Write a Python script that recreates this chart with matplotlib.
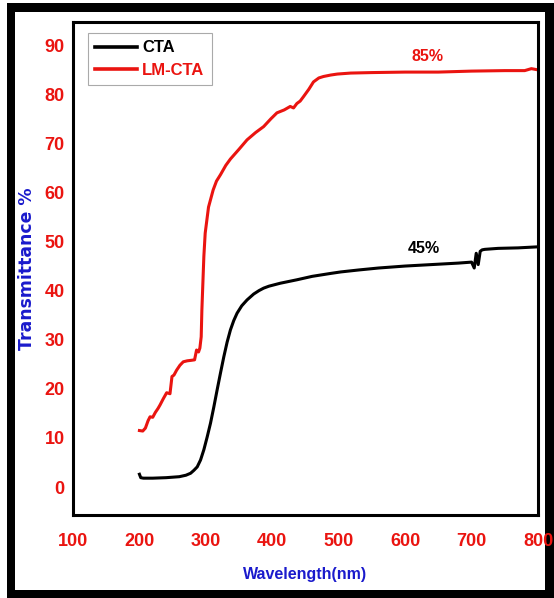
import numpy as np
import matplotlib
matplotlib.use("Agg")
import matplotlib.pyplot as plt
from matplotlib.patches import Rectangle

# datos
wl_lm = [200, 205, 209, 213, 216, 220, 224, 228, 231, 236, 241, 246, 249, 252, 256, 261,
         266, 272, 278, 283, 286, 289, 291, 293, 294, 295.5, 297, 299, 304, 311, 316,
         322, 330, 337, 350, 362, 375, 387, 398, 407, 418, 427, 432, 437, 442, 447,
         455, 462, 470, 477, 488, 498, 518, 550, 600, 650, 700, 750, 780, 790, 798]
tr_lm = [11.5, 11.4, 12.0, 13.5, 14.3, 14.2, 15.2, 16.0, 16.7, 18.0, 19.2, 19.0, 22.5, 22.8,
         23.8, 24.8, 25.5, 25.7, 25.8, 25.9, 27.9, 27.5, 28.3, 30.6, 36.0, 41.5, 47.0, 51.7,
         57.0, 60.5, 62.3, 63.6, 65.5, 66.8, 68.8, 70.7, 72.2, 73.4, 75.0, 76.2, 76.8, 77.5,
         77.2, 78.1, 78.6, 79.5, 81.0, 82.5, 83.3, 83.6, 83.9, 84.1, 84.3, 84.4, 84.5, 84.5,
         84.7, 84.8, 84.8, 85.2, 85.0]

wl_cta = [200, 202, 206, 220, 240, 260, 270, 277, 282, 287, 292, 297, 302, 307, 312, 317,
          322, 327, 332, 337, 342, 347, 354, 362, 372, 380, 387, 395, 412, 437, 460, 488,
          503, 530, 560, 600, 640, 680, 700, 704, 707, 710, 713, 716, 720, 740, 770, 798]
tr_cta = [2.6, 1.9, 1.8, 1.8, 1.9, 2.1, 2.4, 2.8, 3.4, 4.1, 5.5, 7.6, 10.2, 13.0, 16.3, 19.8,
          23.2, 26.5, 29.5, 32.0, 33.9, 35.4, 36.9, 38.1, 39.3, 40.0, 40.5, 40.9, 41.5, 42.2,
          42.9, 43.5, 43.8, 44.2, 44.6, 45.0, 45.3, 45.6, 45.8, 44.6, 47.6, 45.3, 48.0, 48.3,
          48.4, 48.6, 48.7, 48.9]

xticks = [100, 200, 300, 400, 500, 600, 700, 800]
yticks = [0, 10, 20, 30, 40, 50, 60, 70, 80, 90]

fuente = ["Liberation Sans", "DejaVu Sans"]
rojo = "#ea1410"
azul = "#1a1acc"

fig = plt.figure(figsize=(5.54, 5.98), dpi=100)

# marco negro alrededor de la imagen
W, H = 554, 598
fig.add_artist(Rectangle((7 / W, 0), 547 / W, 595 / H, transform=fig.transFigure,
                         facecolor="black", edgecolor="none", zorder=-3))
fig.add_artist(Rectangle((15 / W, 8 / H), 530 / W, 578 / H, transform=fig.transFigure,
                         facecolor="white", edgecolor="none", zorder=-2))

ax = fig.add_axes([73 / W, 1 - 515 / H, 465 / W, 493 / H])

ax.plot(wl_cta, tr_cta, color="black", lw=2.2, label="CTA")
ax.plot(wl_lm, tr_lm, color=rojo, lw=2.2, label="LM-CTA")

ax.set_xlim(100, 800)
ax.set_ylim(-5.7, 94.7)
ax.set_xticks(xticks)
ax.set_yticks(yticks)
ax.tick_params(length=0, labelcolor=rojo)
ax.tick_params(axis="x", pad=13)
ax.tick_params(axis="y", pad=6)
for lab in ax.get_xticklabels() + ax.get_yticklabels():
    lab.set_family(fuente)
    lab.set_fontweight("bold")
    lab.set_fontsize(13)

for sp in ax.spines.values():
    sp.set_linewidth(2.2)

ax.set_xlabel("Wavelength(nm)", color=azul, fontsize=11.5, fontweight="bold",
              family=fuente, labelpad=12)
ax.set_ylabel("Transmittance %", color=azul, fontsize=12.4, fontweight="bold",
              family="DejaVu Sans", labelpad=6)

ax.text(634, 87.6, "85%", color=rojo, fontsize=11.5, fontweight="bold",
        family=fuente, ha="center", va="center")
ax.text(628, 48.5, "45%", color="black", fontsize=11.5, fontweight="bold",
        family=fuente, ha="center", va="center")

leg = ax.legend(loc="upper left", bbox_to_anchor=(0.032, 0.978), fancybox=False,
                framealpha=1, edgecolor="#aaaaaa", handlelength=2.5, handletextpad=0.3,
                borderpad=0.45, labelspacing=0.45, borderaxespad=0,
                prop={"family": fuente, "weight": "bold", "size": 12})
leg.get_frame().set_linewidth(0.8)
for linea in leg.get_lines():
    linea.set_linewidth(2.6)
leg.get_texts()[1].set_color(rojo)

fig.savefig("out.png", dpi=100)
